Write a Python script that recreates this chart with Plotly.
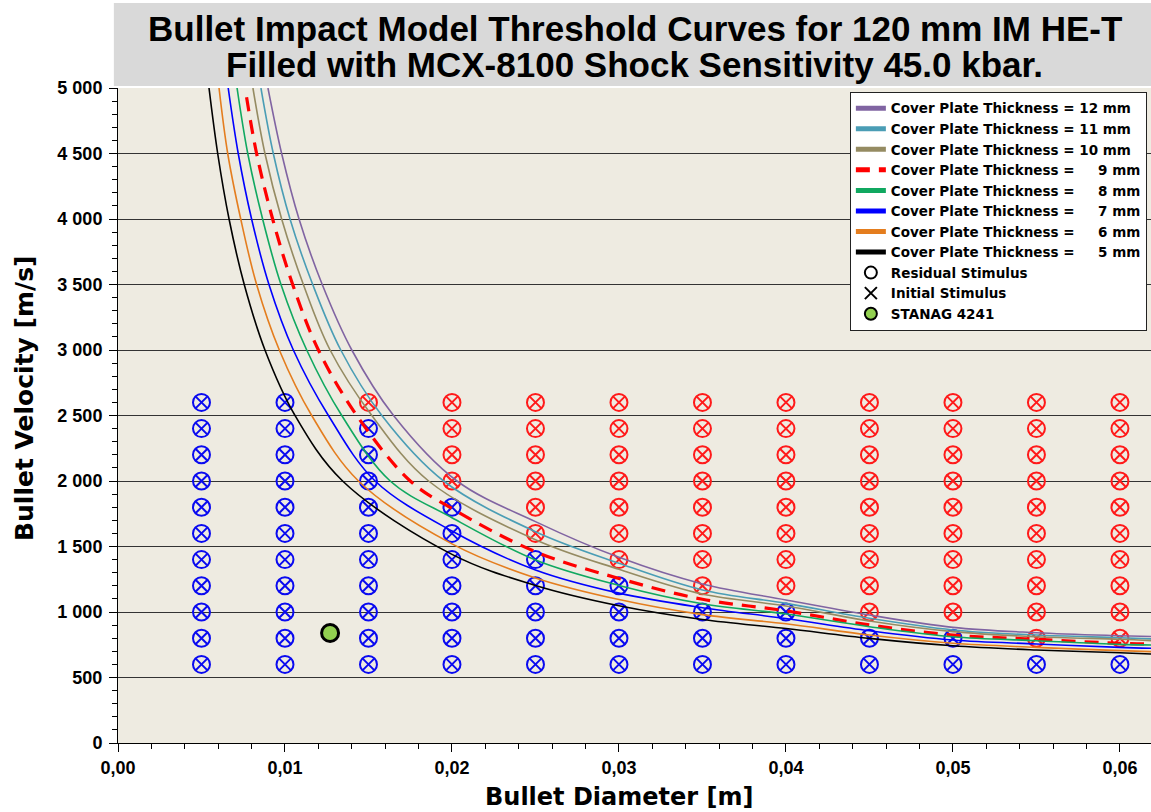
import plotly.graph_objects as go

# ---------------- data ----------------
# test grid
diameters = [0.005, 0.010, 0.015, 0.020, 0.025, 0.030, 0.035, 0.040, 0.045, 0.050, 0.055, 0.060]
velocities = [600, 800, 1000, 1200, 1400, 1600, 1800, 2000, 2200, 2400, 2600]
# lowest velocity with a reaction (red) for each diameter; None = no reaction
first_reaction_velocity = [None, None, 2600, 2000, 1600, 1400, 1200, 1200, 1000, 1000, 800, 800]

# threshold curves (diameter [m], velocity [m/s])
c12_d = [0.00898, 0.0098, 0.01084, 0.01223, 0.0140, 0.0165, 0.0203, 0.025, 0.030, 0.035, 0.040, 0.045, 0.050, 0.055, 0.060, 0.062]
c12_v = [5000, 4500, 4000, 3500, 3000, 2500, 2000, 1690, 1417, 1214, 1092, 977, 883, 842, 819, 812]

c11_d = [0.00856, 0.0093, 0.0103, 0.01166, 0.01334, 0.0158, 0.0195, 0.025, 0.030, 0.035, 0.040, 0.045, 0.050, 0.055, 0.060, 0.062]
c11_v = [5000, 4500, 4000, 3500, 3000, 2500, 2000, 1613, 1372, 1168, 1066, 952, 863, 824, 804, 794]

c10_d = [0.00808, 0.0088, 0.0098, 0.0111, 0.0127, 0.0152, 0.0186, 0.025, 0.030, 0.035, 0.040, 0.045, 0.050, 0.055, 0.060, 0.062]
c10_v = [5000, 4500, 4000, 3500, 3000, 2500, 2000, 1552, 1326, 1137, 1046, 931, 850, 811, 792, 781]

c9_d = [0.0077, 0.0083, 0.00926, 0.01046, 0.0120, 0.0143, 0.0175, 0.020, 0.025, 0.030, 0.035, 0.040, 0.045, 0.050, 0.055, 0.060, 0.062]
c9_v = [4930, 4500, 4000, 3500, 3000, 2500, 2000, 1790, 1460, 1256, 1097, 1009, 901, 824, 792, 761, 756]

c8_d = [0.00713, 0.00777, 0.00866, 0.00976, 0.0113, 0.0134, 0.0163, 0.020, 0.025, 0.030, 0.035, 0.040, 0.045, 0.050, 0.055, 0.060, 0.062]
c8_v = [5000, 4500, 4000, 3500, 3000, 2500, 2000, 1720, 1397, 1203, 1063, 985, 888, 811, 781, 753, 748]

c7_d = [0.0066, 0.0072, 0.0080, 0.00904, 0.0105, 0.0126, 0.0154, 0.020, 0.025, 0.030, 0.035, 0.040, 0.045, 0.050, 0.055, 0.060, 0.062]
c7_v = [5000, 4500, 4000, 3500, 3000, 2500, 2000, 1618, 1321, 1144, 1033, 950, 857, 786, 756, 730, 723]

c6_d = [0.00605, 0.00657, 0.00735, 0.0083, 0.00966, 0.0116, 0.0144, 0.020, 0.025, 0.030, 0.035, 0.040, 0.045, 0.050, 0.055, 0.060, 0.062]
c6_v = [5000, 4500, 4000, 3500, 3000, 2500, 2000, 1520, 1260, 1095, 980, 910, 824, 761, 730, 705, 697]

c5_d = [0.00545, 0.00597, 0.00665, 0.00756, 0.0088, 0.0106, 0.01345, 0.020, 0.025, 0.030, 0.035, 0.040, 0.045, 0.050, 0.055, 0.060, 0.062]
c5_v = [5000, 4500, 4000, 3500, 3000, 2500, 2000, 1440, 1203, 1048, 943, 874, 799, 742, 710, 689, 679]

stanag_d = [0.0127]
stanag_v = [840]

title_line1 = "Bullet Impact Model Threshold Curves for 120 mm IM HE-T"
title_line2 = "Filled with MCX-8100 Shock Sensitivity 45.0 kbar."
x_title = "Bullet Diameter [m]"
y_title = "Bullet Velocity [m/s]"

# ---------------- figure ----------------
FONT = "Liberation Sans, Arial, sans-serif"
WIDE = "DejaVu Sans, Verdana, sans-serif"
BLUE = "#0a0af0"
RED = "#ff1a1a"

fig = go.Figure()

blue_x, blue_y, red_x, red_y = [], [], [], []
for d, thr in zip(diameters, first_reaction_velocity):
    for v in velocities:
        if thr is not None and v >= thr:
            red_x.append(d); red_y.append(v)
        else:
            blue_x.append(d); blue_y.append(v)

for xs, ys, col in [(blue_x, blue_y, BLUE), (red_x, red_y, RED)]:
    fig.add_trace(go.Scatter(x=xs, y=ys, mode="markers", showlegend=False, hoverinfo="skip",
                             marker=dict(symbol="circle-open", size=17, color=col,
                                         line=dict(width=2, color=col))))
    fig.add_trace(go.Scatter(x=xs, y=ys, mode="markers", showlegend=False, hoverinfo="skip",
                             marker=dict(symbol="x-thin-open", size=12.5, color=col,
                                         line=dict(width=2, color=col))))

curves = [
    (c12_d, c12_v, "Cover Plate Thickness = 12 mm", "#8064a2", 1.6, "solid"),
    (c11_d, c11_v, "Cover Plate Thickness = 11 mm", "#4a9db5", 1.6, "solid"),
    (c10_d, c10_v, "Cover Plate Thickness = 10 mm", "#958b62", 1.6, "solid"),
    (c9_d, c9_v, "Cover Plate Thickness = \u2007\u20079 mm", "#ff0000", 3.2, "14px,9px"),
    (c8_d, c8_v, "Cover Plate Thickness = \u2007\u20078 mm", "#10a860", 1.6, "solid"),
    (c7_d, c7_v, "Cover Plate Thickness = \u2007\u20077 mm", "#0000ff", 1.6, "solid"),
    (c6_d, c6_v, "Cover Plate Thickness = \u2007\u20076 mm", "#e47d1e", 1.6, "solid"),
    (c5_d, c5_v, "Cover Plate Thickness = \u2007\u20075 mm", "#000000", 1.6, "solid"),
]
for xs, ys, name, col, w, dash in curves:
    fig.add_trace(go.Scatter(x=xs, y=ys, mode="lines", name=name,
                             line=dict(color=col, width=w, dash=dash, shape="spline", smoothing=1.0)))

fig.add_trace(go.Scatter(x=[None], y=[None], mode="markers", name="Residual Stimulus",
                         marker=dict(symbol="circle-open", size=7, color="#000",
                                     line=dict(width=2, color="#000"))))
fig.add_trace(go.Scatter(x=[None], y=[None], mode="markers", name="Initial Stimulus",
                         marker=dict(symbol="x-thin-open", size=5, color="#000",
                                     line=dict(width=2, color="#000"))))
fig.add_trace(go.Scatter(x=stanag_d, y=stanag_v, mode="markers", name="STANAG 4241",
                         marker=dict(symbol="circle", size=17, color="#92d050",
                                     line=dict(width=3, color="#000"))))

fig.update_layout(
    width=1151, height=812,
    margin=dict(l=118, r=0, t=88, b=69),
    paper_bgcolor="white",
    plot_bgcolor="#eeebe1",
    separators=", ",
    font=dict(family=FONT, color="#000"),
    showlegend=True,
    legend=dict(x=0.996, y=0.994, xanchor="right", yanchor="top",
                bgcolor="white", bordercolor="#222", borderwidth=1,
                font=dict(size=13.5, family=WIDE, weight="bold", color="#000"),
                tracegroupgap=0, itemsizing="constant"),
    annotations=[
        dict(text=title_line1, xref="paper", yref="paper", x=0.5, y=(743 - 28) / 655,
             xanchor="center", yanchor="middle", showarrow=False,
             font=dict(size=35, family=FONT, weight="bold", color="#000")),
        dict(text=title_line2, xref="paper", yref="paper", x=0.5, y=(743 - 65) / 655,
             xanchor="center", yanchor="middle", showarrow=False,
             font=dict(size=35, family=FONT, weight="bold", color="#000")),
        dict(text=y_title, xref="paper", yref="paper", x=(24 - 118) / 1033, y=(743 - 398) / 655,
             xanchor="center", yanchor="middle", showarrow=False, textangle=-90,
             font=dict(size=25, family=WIDE, weight="bold", color="#000")),
        dict(text=x_title, xref="paper", yref="paper", x=(619 - 118) / 1033, y=(743 - 797) / 655,
             xanchor="center", yanchor="middle", showarrow=False,
             font=dict(size=24, family=WIDE, weight="bold", color="#000")),
    ],
    shapes=[dict(type="rect", xref="paper", yref="paper", x0=-0.004, x1=1.0,
                 y0=1.003, y1=(743 - 3) / 655, fillcolor="#d9d9d9", line=dict(width=0), layer="below")],
)

fig.update_xaxes(range=[0, 0.06186], dtick=0.01, tick0=0, tickformat=".2f",
                 showgrid=False, zeroline=False,
                 showline=True, linecolor="#000", linewidth=1,
                 ticks="outside", ticklen=8, tickcolor="#000",
                 tickfont=dict(size=18, family=FONT, weight="bold"),
                 minor=dict(dtick=0.002, tick0=0, ticks="outside", ticklen=5, tickcolor="#000", showgrid=False))
fig.update_yaxes(range=[0, 5000], dtick=500, tick0=0, tickformat=",d",
                 showgrid=True, gridcolor="#333", gridwidth=1, zeroline=False,
                 showline=True, linecolor="#000", linewidth=1,
                 ticks="outside", ticklen=8, tickcolor="#000", ticklabelstandoff=3,
                 tickfont=dict(size=18, family=FONT, weight="bold"),
                 minor=dict(dtick=100, tick0=0, ticks="outside", ticklen=5, tickcolor="#000", showgrid=False))

fig.write_html("out.html", config={"displayModeBar": False},
               post_script="document.body.style.margin='0px';")
